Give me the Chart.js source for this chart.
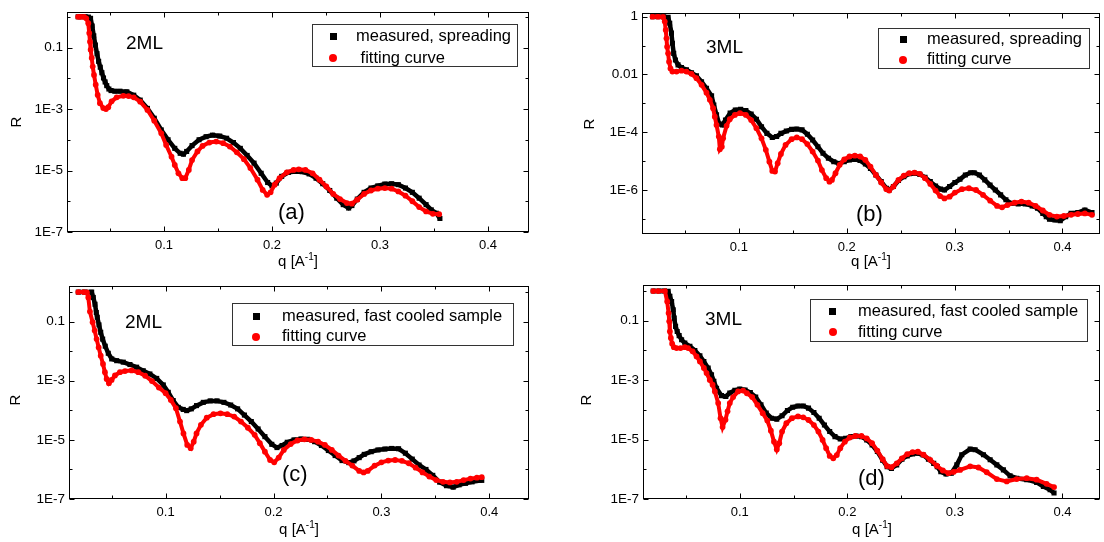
<!DOCTYPE html>
<html>
<head>
<meta charset="utf-8">
<script src="https://cdn.jsdelivr.net/npm/chart.js@4.4.1/dist/chart.umd.min.js"></script>
<style>
body { margin:0; background:#fff; }
#fig { position:relative; width:1104px; height:542px; overflow:hidden; background:#fff;
       font-family: Arial, "Liberation Sans", sans-serif; color:#000; }
#fig canvas { position:absolute; }
.t { position:absolute; line-height:1; white-space:pre; }
.tag { font-size:19px; }
.sub { font-size:22px; }
.lt { font-size:16.5px; }
.ax { font-size:15px; transform:translateX(-50%); }
.ax sup { font-size:10px; vertical-align:0; position:relative; top:-6px; }
.ry { font-size:15px; transform:translate(-50%,-50%) rotate(-90deg); }
.box { position:absolute; border:1px solid #333; box-sizing:border-box; }
.sq { position:absolute; width:7px; height:7px; background:#000; }
.dot { position:absolute; width:8px; height:8px; border-radius:50%; background:#f00; }
</style>
</head>
<body>
<div id="fig">
  <canvas id="cA" width="550" height="272" style="left:0;top:0"></canvas>
  <canvas id="cB" width="552" height="272" style="left:552px;top:0"></canvas>
  <canvas id="cC" width="550" height="270" style="left:0;top:272px"></canvas>
  <canvas id="cD" width="552" height="270" style="left:552px;top:272px"></canvas>

  <!-- panel labels -->
  <div class="t tag" style="left:126px;top:33px">2ML</div>
  <div class="t tag" style="left:706px;top:37px">3ML</div>
  <div class="t tag" style="left:125px;top:312px">2ML</div>
  <div class="t tag" style="left:705px;top:309px">3ML</div>
  <div class="t sub" style="left:278px;top:201px">(a)</div>
  <div class="t sub" style="left:856px;top:203px">(b)</div>
  <div class="t sub" style="left:282px;top:463px">(c)</div>
  <div class="t sub" style="left:858px;top:467px">(d)</div>

  <!-- axis titles -->
  <div class="t ry" style="left:15px;top:122px">R</div>
  <div class="t ry" style="left:588px;top:124px">R</div>
  <div class="t ry" style="left:14px;top:400px">R</div>
  <div class="t ry" style="left:585px;top:400px">R</div>
  <div class="t ax" style="left:298px;top:253px">q [A<sup>-1</sup>]</div>
  <div class="t ax" style="left:871px;top:253px">q [A<sup>-1</sup>]</div>
  <div class="t ax" style="left:299px;top:521px">q [A<sup>-1</sup>]</div>
  <div class="t ax" style="left:872px;top:521px">q [A<sup>-1</sup>]</div>

  <!-- legends -->
  <div class="box" style="left:312px;top:24px;width:206px;height:43px"></div>
  <div class="sq" style="left:330px;top:33px"></div>
  <div class="dot" style="left:329px;top:54px"></div>
  <div class="t lt" style="left:356px;top:27px">measured, spreading</div>
  <div class="t lt" style="left:356px;top:49px"> fitting curve</div>

  <div class="box" style="left:878px;top:28px;width:212px;height:41px"></div>
  <div class="sq" style="left:900px;top:36px"></div>
  <div class="dot" style="left:899px;top:56px"></div>
  <div class="t lt" style="left:927px;top:30px">measured, spreading</div>
  <div class="t lt" style="left:927px;top:50px">fitting curve</div>

  <div class="box" style="left:232px;top:303px;width:282px;height:43px"></div>
  <div class="sq" style="left:253px;top:313px"></div>
  <div class="dot" style="left:252px;top:333px"></div>
  <div class="t lt" style="left:282px;top:307px">measured, fast cooled sample</div>
  <div class="t lt" style="left:282px;top:327px">fitting curve</div>

  <div class="box" style="left:810px;top:299px;width:278px;height:43px"></div>
  <div class="sq" style="left:829px;top:308px"></div>
  <div class="dot" style="left:829px;top:328px"></div>
  <div class="t lt" style="left:858px;top:302px">measured, fast cooled sample</div>
  <div class="t lt" style="left:858px;top:323px">fitting curve</div>
</div>

<script>
// [q (1/A), log10(R)]
const measA = [[0.0205,0.0],[0.023,0.0],[0.027,0.0],[0.030,-0.01],[0.032,-0.05],[0.0335,-0.30],[0.035,-0.62],[0.0365,-0.92],
  [0.038,-1.20],[0.0395,-1.45],[0.041,-1.64],[0.0425,-1.82],[0.044,-1.99],[0.0455,-2.12],[0.047,-2.24],[0.049,-2.35],
  [0.051,-2.40],[0.0545,-2.42],[0.0592,-2.42],[0.0656,-2.44],[0.072,-2.55],[0.078,-2.71],[0.0847,-2.98],[0.091,-3.30],
  [0.0975,-3.68],[0.1038,-4.00],[0.110,-4.28],[0.115,-4.44],[0.118,-4.47],[0.121,-4.38],[0.126,-4.19],[0.1325,-4.00],
  [0.139,-3.90],[0.145,-3.85],[0.1516,-3.88],[0.158,-3.95],[0.1643,-4.09],[0.1707,-4.28],[0.177,-4.51],[0.1834,-4.76],
  [0.190,-5.09],[0.196,-5.39],[0.200,-5.50],[0.204,-5.41],[0.209,-5.19],[0.2153,-5.06],[0.2217,-5.03],[0.228,-5.04],
  [0.2344,-5.11],[0.2408,-5.25],[0.247,-5.43],[0.2535,-5.65],[0.260,-5.90],[0.266,-6.11],[0.271,-6.22],[0.274,-6.14],
  [0.279,-5.93],[0.2853,-5.71],[0.2917,-5.57],[0.298,-5.50],[0.3045,-5.44],[0.3108,-5.43],[0.317,-5.46],[0.3236,-5.57],
  [0.330,-5.71],[0.3363,-5.90],[0.3427,-6.11],[0.3475,-6.28],[0.3522,-6.39],[0.3555,-6.56]];
const fitA = [[0.0205,0.0],[0.023,0.0],[0.026,0.0],[0.028,-0.05],[0.0299,-0.21],[0.0308,-0.53],[0.0315,-0.81],[0.0321,-1.07],
  [0.0331,-1.34],[0.034,-1.62],[0.0352,-1.89],[0.0368,-2.21],[0.0386,-2.54],[0.0407,-2.81],[0.0438,-2.97],[0.0463,-3.00],
  [0.0484,-2.94],[0.0515,-2.75],[0.0562,-2.62],[0.0624,-2.57],[0.0672,-2.58],[0.072,-2.62],[0.078,-2.76],[0.0847,-3.03],
  [0.091,-3.38],[0.0975,-3.79],[0.102,-4.17],[0.107,-4.55],[0.110,-4.82],[0.1134,-5.09],[0.117,-5.25],[0.1197,-5.25],
  [0.123,-4.98],[0.126,-4.66],[0.131,-4.38],[0.1357,-4.20],[0.142,-4.09],[0.1484,-4.06],[0.1548,-4.11],[0.161,-4.22],
  [0.1675,-4.41],[0.174,-4.63],[0.180,-4.92],[0.1866,-5.30],[0.1914,-5.63],[0.1955,-5.79],[0.1987,-5.71],[0.2025,-5.46],
  [0.207,-5.25],[0.2137,-5.06],[0.220,-4.98],[0.2248,-4.96],[0.231,-4.98],[0.2376,-5.09],[0.244,-5.30],[0.2503,-5.52],
  [0.2567,-5.76],[0.263,-5.93],[0.2694,-6.06],[0.274,-6.08],[0.279,-5.95],[0.2853,-5.76],[0.2917,-5.65],[0.298,-5.59],
  [0.3045,-5.57],[0.3108,-5.59],[0.317,-5.68],[0.3236,-5.82],[0.330,-6.00],[0.3363,-6.19],[0.3427,-6.33],[0.349,-6.41],
  [0.3548,-6.42]];

const measB = [[0.020,0.0],[0.025,0.0],[0.030,0.0],[0.0344,-0.02],[0.0359,-0.23],[0.0375,-0.57],[0.0384,-0.92],[0.0396,-1.27],
  [0.0412,-1.50],[0.0436,-1.67],[0.0468,-1.76],[0.0514,-1.84],[0.0561,-1.94],[0.0607,-2.05],[0.0654,-2.25],[0.070,-2.48],
  [0.0747,-2.74],[0.0768,-3.06],[0.0793,-3.40],[0.0817,-3.71],[0.0847,-3.75],[0.0876,-3.58],[0.0919,-3.34],[0.0967,-3.23],
  [0.1016,-3.21],[0.1065,-3.25],[0.1114,-3.37],[0.1163,-3.55],[0.121,-3.81],[0.126,-4.04],[0.131,-4.18],[0.135,-4.15],
  [0.139,-4.04],[0.144,-3.96],[0.1489,-3.90],[0.1537,-3.89],[0.1586,-3.92],[0.1635,-4.07],[0.1684,-4.27],[0.1733,-4.50],
  [0.178,-4.73],[0.183,-4.90],[0.188,-5.02],[0.1928,-5.08],[0.1977,-5.02],[0.2026,-4.96],[0.2075,-4.94],[0.2124,-4.98],
  [0.2173,-5.10],[0.222,-5.25],[0.227,-5.48],[0.232,-5.71],[0.2368,-5.94],[0.2394,-6.00],[0.2433,-5.88],[0.248,-5.67],
  [0.253,-5.54],[0.258,-5.44],[0.2629,-5.42],[0.2678,-5.46],[0.2726,-5.56],[0.2775,-5.71],[0.2824,-5.86],[0.287,-5.97],
  [0.2906,-6.00],[0.2954,-5.88],[0.3003,-5.74],[0.305,-5.63],[0.310,-5.48],[0.315,-5.40],[0.3182,-5.40],[0.323,-5.48],
  [0.328,-5.65],[0.3329,-5.83],[0.3378,-6.00],[0.3427,-6.17],[0.3476,-6.34],[0.3524,-6.46],[0.359,-6.48],[0.3655,-6.48],
  [0.372,-6.55],[0.3769,-6.63],[0.3818,-6.81],[0.385,-6.92],[0.388,-7.01],[0.393,-7.04],[0.398,-7.06],[0.403,-6.92],
  [0.408,-6.81],[0.4143,-6.78],[0.4208,-6.69],[0.4274,-6.78]];
const fitB = [[0.020,0.0],[0.025,0.0],[0.0297,-0.01],[0.0313,-0.17],[0.0322,-0.46],[0.0329,-0.75],[0.0335,-1.04],[0.0344,-1.27],
  [0.0353,-1.56],[0.0366,-1.79],[0.0384,-1.90],[0.0422,-1.90],[0.0468,-1.87],[0.0514,-1.90],[0.0561,-1.98],[0.0607,-2.13],
  [0.0654,-2.36],[0.070,-2.63],[0.0731,-2.88],[0.0761,-3.17],[0.0777,-3.46],[0.0793,-3.75],[0.0814,-4.15],[0.0824,-4.59],
  [0.0842,-4.50],[0.0854,-4.21],[0.0886,-3.78],[0.0916,-3.55],[0.0963,-3.40],[0.101,-3.34],[0.1065,-3.40],[0.1114,-3.58],
  [0.1163,-3.86],[0.121,-4.21],[0.125,-4.61],[0.1283,-5.02],[0.131,-5.34],[0.1335,-5.36],[0.136,-5.07],[0.139,-4.75],
  [0.1433,-4.44],[0.1489,-4.24],[0.1537,-4.18],[0.1586,-4.24],[0.1635,-4.41],[0.1684,-4.67],[0.1733,-4.98],[0.177,-5.31],
  [0.181,-5.59],[0.184,-5.71],[0.1863,-5.65],[0.1896,-5.42],[0.1935,-5.13],[0.1977,-4.94],[0.2026,-4.84],[0.2075,-4.81],
  [0.2124,-4.84],[0.2173,-4.96],[0.222,-5.19],[0.227,-5.48],[0.232,-5.74],[0.2368,-5.97],[0.2394,-6.02],[0.2433,-5.88],
  [0.248,-5.65],[0.253,-5.50],[0.258,-5.42],[0.2629,-5.40],[0.2678,-5.44],[0.2726,-5.59],[0.2775,-5.79],[0.2824,-6.02],
  [0.2866,-6.21],[0.2906,-6.29],[0.2954,-6.23],[0.3003,-6.09],[0.3068,-5.97],[0.3133,-5.94],[0.3199,-6.00],[0.3264,-6.17],
  [0.333,-6.37],[0.3394,-6.55],[0.344,-6.60],[0.349,-6.52],[0.3557,-6.44],[0.362,-6.40],[0.3687,-6.44],[0.3752,-6.55],
  [0.3818,-6.71],[0.388,-6.86],[0.3948,-6.92],[0.4013,-6.90],[0.408,-6.86],[0.4143,-6.83],[0.4208,-6.81],[0.4274,-6.86]];

const measC = [[0.019,0.0],[0.025,0.0],[0.0314,0.0],[0.0329,-0.18],[0.0345,-0.41],[0.0357,-0.69],[0.0366,-0.85],[0.0382,-1.11],
  [0.0398,-1.36],[0.0416,-1.59],[0.044,-1.83],[0.0468,-2.07],[0.050,-2.26],[0.0546,-2.32],[0.0607,-2.37],[0.0669,-2.45],
  [0.0731,-2.54],[0.0792,-2.66],[0.0854,-2.77],[0.0917,-2.92],[0.0978,-3.14],[0.1024,-3.39],[0.107,-3.67],[0.1117,-3.90],
  [0.1163,-3.97],[0.1195,-4.01],[0.1238,-3.95],[0.1286,-3.84],[0.1349,-3.73],[0.1413,-3.68],[0.1476,-3.68],[0.154,-3.73],
  [0.1603,-3.82],[0.1667,-3.95],[0.173,-4.16],[0.1794,-4.38],[0.1857,-4.63],[0.192,-4.89],[0.1984,-5.15],[0.2032,-5.26],
  [0.2079,-5.19],[0.2127,-5.08],[0.219,-5.00],[0.2254,-4.97],[0.2317,-4.98],[0.2381,-5.06],[0.2444,-5.19],[0.2508,-5.36],
  [0.2571,-5.53],[0.2635,-5.70],[0.2698,-5.77],[0.2746,-5.71],[0.2794,-5.60],[0.2841,-5.49],[0.2905,-5.40],[0.2968,-5.34],
  [0.3032,-5.31],[0.3095,-5.29],[0.3159,-5.30],[0.3222,-5.45],[0.3286,-5.65],[0.3349,-5.85],[0.3413,-6.00],[0.3476,-6.20],
  [0.354,-6.43],[0.3603,-6.55],[0.3665,-6.60],[0.372,-6.52],[0.378,-6.47],[0.384,-6.42],[0.393,-6.37]];
const fitC = [[0.019,0.0],[0.024,0.0],[0.027,-0.01],[0.0283,-0.18],[0.0298,-0.66],[0.0323,-1.02],[0.0342,-1.30],[0.036,-1.59],
  [0.0379,-1.87],[0.0398,-2.15],[0.0419,-2.43],[0.0437,-2.71],[0.0453,-2.94],[0.0474,-3.08],[0.0499,-2.97],[0.053,-2.82],
  [0.0576,-2.71],[0.0623,-2.67],[0.0685,-2.65],[0.0746,-2.71],[0.081,-2.83],[0.0873,-3.01],[0.0937,-3.23],[0.100,-3.42],
  [0.1048,-3.65],[0.1095,-3.93],[0.1133,-4.38],[0.1165,-4.78],[0.120,-5.17],[0.1232,-5.28],[0.126,-5.06],[0.1286,-4.78],
  [0.1327,-4.49],[0.1381,-4.25],[0.1444,-4.13],[0.1508,-4.10],[0.1571,-4.13],[0.1635,-4.21],[0.1698,-4.38],[0.1762,-4.59],
  [0.1825,-4.83],[0.1873,-5.11],[0.192,-5.40],[0.1968,-5.68],[0.2006,-5.76],[0.2048,-5.60],[0.2095,-5.34],[0.2159,-5.14],
  [0.2222,-5.02],[0.2286,-4.98],[0.2349,-5.00],[0.2413,-5.06],[0.2476,-5.17],[0.254,-5.34],[0.2603,-5.53],[0.2667,-5.71],
  [0.273,-5.87],[0.2794,-6.05],[0.2835,-6.10],[0.2873,-6.05],[0.2937,-5.87],[0.300,-5.76],[0.3063,-5.70],[0.3127,-5.68],
  [0.319,-5.71],[0.3254,-5.79],[0.3317,-5.94],[0.3381,-6.10],[0.3444,-6.24],[0.3508,-6.36],[0.3571,-6.42],[0.3635,-6.44],
  [0.3698,-6.42],[0.3762,-6.36],[0.3825,-6.31],[0.3885,-6.28],[0.393,-6.26]];

const measD = [[0.0195,0.0],[0.025,0.0],[0.030,0.0],[0.0334,-0.01],[0.035,-0.18],[0.0366,-0.35],[0.0381,-0.63],[0.039,-0.91],
  [0.0403,-1.19],[0.0418,-1.36],[0.0436,-1.50],[0.0459,-1.64],[0.0489,-1.75],[0.0536,-1.86],[0.0582,-2.00],[0.0629,-2.18],
  [0.0666,-2.37],[0.0706,-2.59],[0.0737,-2.82],[0.0759,-3.04],[0.0784,-3.27],[0.083,-3.52],[0.087,-3.55],[0.0907,-3.43],
  [0.0954,-3.34],[0.100,-3.30],[0.1049,-3.33],[0.1098,-3.42],[0.1148,-3.57],[0.1197,-3.83],[0.1246,-4.11],[0.1295,-4.28],
  [0.1344,-4.31],[0.1393,-4.20],[0.1443,-4.02],[0.1492,-3.91],[0.1541,-3.87],[0.159,-3.87],[0.1639,-3.94],[0.1689,-4.09],
  [0.1738,-4.28],[0.1787,-4.51],[0.1836,-4.73],[0.1885,-4.90],[0.1934,-4.98],[0.1984,-4.96],[0.2033,-4.90],[0.2082,-4.88],
  [0.2131,-4.90],[0.218,-5.01],[0.223,-5.18],[0.2279,-5.40],[0.2328,-5.69],[0.237,-5.91],[0.241,-5.97],[0.2459,-5.85],
  [0.2508,-5.66],[0.2557,-5.55],[0.2607,-5.48],[0.2656,-5.46],[0.2705,-5.52],[0.2754,-5.66],[0.2803,-5.80],[0.2836,-5.91],
  [0.2869,-6.08],[0.2918,-6.16],[0.2967,-6.13],[0.3018,-5.85],[0.3064,-5.51],[0.3142,-5.32],[0.3188,-5.34],[0.3266,-5.51],
  [0.3328,-5.68],[0.339,-5.85],[0.3451,-6.02],[0.3513,-6.22],[0.3575,-6.30],[0.3668,-6.35],[0.376,-6.44],[0.3823,-6.58],
  [0.3885,-6.69],[0.3922,-6.80]];
const fitD = [[0.0195,0.0],[0.024,0.0],[0.0304,0.0],[0.0325,-0.35],[0.0338,-0.74],[0.0344,-1.02],[0.035,-1.36],[0.0359,-1.58],
  [0.0371,-1.77],[0.0387,-1.89],[0.0412,-1.92],[0.0449,-1.92],[0.0489,-1.89],[0.052,-1.92],[0.0561,-2.03],[0.0598,-2.20],
  [0.0629,-2.37],[0.0666,-2.59],[0.0691,-2.76],[0.0721,-2.99],[0.0747,-3.15],[0.0768,-3.38],[0.0799,-3.77],[0.0821,-4.28],
  [0.084,-4.58],[0.0867,-4.33],[0.0886,-4.05],[0.0907,-3.77],[0.0938,-3.57],[0.0984,-3.38],[0.1031,-3.35],[0.1066,-3.44],
  [0.1115,-3.57],[0.1164,-3.83],[0.1213,-4.11],[0.1256,-4.36],[0.1289,-4.70],[0.1318,-5.07],[0.1344,-5.33],[0.1367,-5.12],
  [0.1393,-4.73],[0.1433,-4.45],[0.1485,-4.28],[0.1541,-4.22],[0.159,-4.25],[0.1639,-4.34],[0.1689,-4.51],[0.1731,-4.73],
  [0.177,-5.01],[0.1803,-5.29],[0.1836,-5.55],[0.1869,-5.63],[0.1902,-5.52],[0.1934,-5.29],[0.1977,-5.07],[0.2023,-4.93],
  [0.2075,-4.88],[0.2131,-4.88],[0.218,-4.96],[0.223,-5.12],[0.2279,-5.37],[0.2328,-5.66],[0.237,-5.89],[0.241,-5.93],
  [0.2459,-5.80],[0.2508,-5.63],[0.2557,-5.49],[0.2607,-5.42],[0.2656,-5.41],[0.2708,-5.51],[0.2771,-5.68],[0.2832,-5.88],
  [0.2888,-6.04],[0.294,-6.13],[0.2987,-6.09],[0.3049,-6.02],[0.3142,-5.90],[0.3219,-5.94],[0.3296,-6.10],[0.339,-6.33],
  [0.3482,-6.41],[0.3575,-6.33],[0.3668,-6.30],[0.376,-6.35],[0.3853,-6.49],[0.3922,-6.60]];

// tick values and their labels
const xTickVals = [0.05, 0.1, 0.15, 0.2, 0.25, 0.3, 0.35, 0.4];
const xTickLabels = ['', '0.1', '', '0.2', '', '0.3', '', '0.4'];
const yTickVals = [1e-7, 1e-6, 1e-5, 1e-4, 1e-3, 1e-2, 1e-1, 1];
const yLabelsOdd = ['1E-7', '', '1E-5', '', '1E-3', '', '0.1', ''];
const yLabelsEven = ['', '1E-6', '', '1E-4', '', '0.01', '', '1'];

Chart.defaults.font.family = 'Arial, "Liberation Sans", sans-serif';
Chart.defaults.color = '#000';

const toPts = arr => arr.map(p => ({ x: p[0], y: Math.pow(10, p[1]) }));

// frame on all four sides with inward ticks
const frame = {
  id: 'frame',
  afterDatasetsDraw(chart, args, opts) {
    const { ctx, chartArea: a, scales } = chart;
    const l = Math.round(a.left) + 0.5, r = Math.round(a.right) - 0.5;
    const t = Math.round(a.top) + 0.5, b = Math.round(a.bottom) - 0.5;
    ctx.save();
    ctx.strokeStyle = '#000';
    ctx.lineWidth = 1;
    ctx.strokeRect(l, t, r - l, b - t);
    ctx.beginPath();
    xTickVals.forEach((v, i) => {
      const x = Math.round(scales.x.getPixelForValue(v)) + 0.5;
      const len = xTickLabels[i] ? 5 : 3;
      ctx.moveTo(x, b); ctx.lineTo(x, b - len);
      ctx.moveTo(x, t); ctx.lineTo(x, t + len);
    });
    yTickVals.forEach((v, i) => {
      if (v < scales.y.min || v > scales.y.max) return;
      const y = Math.round(scales.y.getPixelForValue(v)) + 0.5;
      const len = opts.yLabels[i] ? 5 : 3;
      ctx.moveTo(l, y); ctx.lineTo(l + len, y);
      ctx.moveTo(r, y); ctx.lineTo(r - len, y);
    });
    ctx.stroke();
    ctx.restore();
  }
};

function makePanel(id, p) {
  new Chart(document.getElementById(id), {
    type: 'scatter',
    data: {
      datasets: [
        { data: toPts(p.meas), order: 1, showLine: true, borderColor: '#000', borderWidth: 4.5,
          backgroundColor: '#000', pointStyle: 'rect', pointRadius: 3.6, pointBorderWidth: 0, pointHoverRadius: 3.6 },
        { data: toPts(p.fit), order: 0, showLine: true, borderColor: '#ff0000', borderWidth: 4,
          backgroundColor: '#ff0000', pointStyle: 'circle', pointRadius: 2.9, pointBorderWidth: 0, pointHoverRadius: 2.9 }
      ]
    },
    options: {
      responsive: false,
      animation: false,
      events: [],
      layout: { padding: { left: 0, top: p.padTop, right: p.padRight, bottom: 0 } },
      plugins: { legend: { display: false }, tooltip: { enabled: false }, frame: { yLabels: p.yLabels } },
      scales: {
        x: {
          type: 'linear', min: p.xMin, max: p.xMax, bounds: 'data',
          grid: { display: false, drawTicks: false }, border: { display: false },
          afterBuildTicks: s => { s.ticks = xTickVals.map(v => ({ value: v })); },
          afterFit: s => { s.height = p.xH; },
          ticks: { autoSkip: false, maxRotation: 0, padding: 6, font: { size: 13 },
                   callback: (v, i) => xTickLabels[i] }
        },
        y: {
          type: 'logarithmic', min: p.yMin, max: p.yMax, bounds: 'data',
          grid: { display: false, drawTicks: false }, border: { display: false },
          afterBuildTicks: s => { s.ticks = yTickVals.map(v => ({ value: v })); },
          afterFit: s => { s.width = p.yW; },
          ticks: { autoSkip: false, padding: 4, font: { size: 13.5 },
                   callback: (v, i) => p.yLabels[i] }
        }
      }
    },
    plugins: [frame]
  });
}

makePanel('cA', { meas: measA, fit: fitA, yLabels: yLabelsOdd, xMin: 0.0102, xMax: 0.438, yMin: 1e-7, yMax: 1.42,
                  yW: 67, padTop: 12, padRight: 21, xH: 40 });
makePanel('cB', { meas: measB, fit: fitB, yLabels: yLabelsEven, xMin: 0.0102, xMax: 0.4352, yMin: 3.0e-8, yMax: 1.34,
                  yW: 90, padTop: 13, padRight: 3, xH: 38 });
makePanel('cC', { meas: measC, fit: fitC, yLabels: yLabelsOdd, xMin: 0.0104, xMax: 0.4368, yMin: 1e-7, yMax: 1.61,
                  yW: 69, padTop: 14, padRight: 21, xH: 43 });
makePanel('cD', { meas: measD, fit: fitD, yLabels: yLabelsOdd, xMin: 0.0100, xMax: 0.4353, yMin: 1e-7, yMax: 1.60,
                  yW: 91, padTop: 13, padRight: 3, xH: 43 });
</script>
</body>
</html>
